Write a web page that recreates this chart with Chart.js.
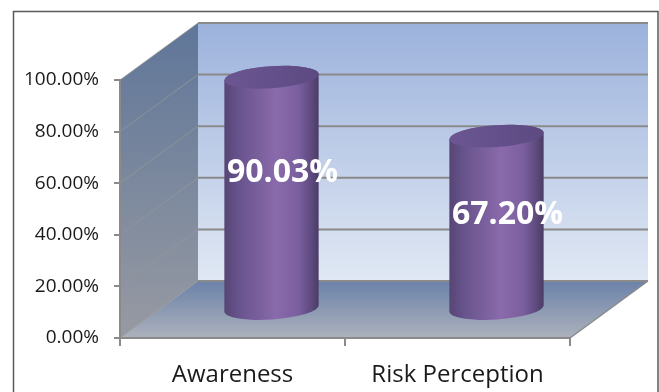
<!DOCTYPE html>
<html>
<head>
    <title>Awareness vs Risk Perception</title>
    <script src="https://cdn.jsdelivr.net/npm/chart.js"></script>
    <style>
        body { margin: 0; background: #fff; }
        #wrap { width: 659px; height: 392px; }
    </style>
</head>
<body>
    <div id="wrap"><canvas id="cylChart" width="659" height="392"></canvas></div>
    <script>
        // data
        const categories = ['Awareness', 'Risk Perception'];
        const values = [90.03, 67.20];
        const yTicks = [0, 20, 40, 60, 80, 100];

        // fake 3d depth offset (px)
        const DX = 78, DY = -57;

        function pct(v) { return v.toFixed(2) + '%'; }

        const scene3d = {
            id: 'scene3d',
            beforeDraw(chart) {
                const ctx = chart.ctx;
                const ys = chart.scales.y;
                const L = chart.chartArea.left, R = chart.chartArea.right;
                const y0 = ys.getPixelForValue(0), yTop = ys.getPixelForValue(100);

                ctx.save();
                // outer frame
                ctx.strokeStyle = '#5a5a5a';
                ctx.lineWidth = 1.5;
                ctx.strokeRect(13.5, 11.5, 644.5, 400);

                // back wall
                let g = ctx.createLinearGradient(0, yTop + DY, 0, y0 + DY);
                g.addColorStop(0, '#9cb2dc');
                g.addColorStop(1, '#e0e8f4');
                ctx.fillStyle = g;
                ctx.fillRect(L + DX, yTop + DY, R - L, y0 - yTop);

                // side wall
                g = ctx.createLinearGradient(0, yTop + DY, 0, y0);
                g.addColorStop(0, '#5f7699');
                g.addColorStop(1, '#979aa2');
                ctx.fillStyle = g;
                ctx.beginPath();
                ctx.moveTo(L, y0);
                ctx.lineTo(L, yTop);
                ctx.lineTo(L + DX, yTop + DY);
                ctx.lineTo(L + DX, y0 + DY);
                ctx.closePath();
                ctx.fill();

                // floor
                g = ctx.createLinearGradient(0, y0 + DY, 0, y0);
                g.addColorStop(0, '#6b82a9');
                g.addColorStop(1, '#acb1bc');
                ctx.fillStyle = g;
                ctx.beginPath();
                ctx.moveTo(L, y0);
                ctx.lineTo(R, y0);
                ctx.lineTo(R + DX, y0 + DY);
                ctx.lineTo(L + DX, y0 + DY);
                ctx.closePath();
                ctx.fill();

                // gridlines on back + side walls
                yTicks.forEach(v => {
                    const y = ys.getPixelForValue(v);
                    ctx.strokeStyle = '#8a8a8a';
                    ctx.lineWidth = 2;
                    ctx.beginPath();
                    ctx.moveTo(L + DX, y + DY);
                    ctx.lineTo(R + DX, y + DY);
                    ctx.stroke();
                    ctx.strokeStyle = 'rgba(150,150,150,0.8)';
                    ctx.lineWidth = 1;
                    ctx.beginPath();
                    ctx.moveTo(L, y);
                    ctx.lineTo(L + DX, y + DY);
                    ctx.stroke();
                });

                // floor right edge
                ctx.strokeStyle = '#8a8a8a';
                ctx.lineWidth = 1.5;
                ctx.beginPath();
                ctx.moveTo(R, y0);
                ctx.lineTo(R + DX, y0 + DY);
                ctx.stroke();
                ctx.restore();
            },
            afterDatasetsDraw(chart) {
                const ctx = chart.ctx;
                const meta = chart.getDatasetMeta(0);
                ctx.save();
                meta.data.forEach((bar, i) => {
                    const cx = bar.x + DX / 2;
                    const top = bar.y + DY / 2;
                    const base = bar.base + DY / 2;
                    const rx = bar.width / 2, ry = 11, rot = -0.07;

                    // body
                    const g = ctx.createLinearGradient(cx - rx, 0, cx + rx, 0);
                    g.addColorStop(0, '#564574');
                    g.addColorStop(0.15, '#67538c');
                    g.addColorStop(0.55, '#8a6aab');
                    g.addColorStop(0.78, '#7b5f9f');
                    g.addColorStop(0.93, '#5c497c');
                    g.addColorStop(1, '#4a3b64');
                    ctx.fillStyle = g;
                    ctx.beginPath();
                    ctx.ellipse(cx, base, rx, ry, rot, 0, Math.PI);
                    ctx.ellipse(cx, top, rx, ry, rot, Math.PI, 2 * Math.PI);
                    ctx.closePath();
                    ctx.fill();

                    // lid
                    const tg = ctx.createLinearGradient(cx - rx, top, cx + rx, top);
                    tg.addColorStop(0, '#6b5692');
                    tg.addColorStop(1, '#5d4a82');
                    ctx.fillStyle = tg;
                    ctx.beginPath();
                    ctx.ellipse(cx, top, rx, ry, rot, 0, 2 * Math.PI);
                    ctx.fill();

                    // value label
                    ctx.fillStyle = '#ffffff';
                    ctx.font = 'bold 32px "Open Sans"';
                    ctx.textAlign = 'center';
                    ctx.textBaseline = 'middle';
                    ctx.fillText(pct(values[i]), bar.x + 50, bar.y + 0.29 * (bar.base - bar.y));
                });
                ctx.restore();
            }
        };

        function setupChart() {
            const ctx = document.getElementById('cylChart').getContext('2d');
            return new Chart(ctx, {
                type: 'bar',
                data: {
                    labels: categories,
                    datasets: [{
                        data: values,
                        backgroundColor: 'rgba(0,0,0,0)',
                        categoryPercentage: 1,
                        barPercentage: 0.42
                    }]
                },
                options: {
                    responsive: false,
                    animation: false,
                    layout: { padding: { left: 0, top: 80, right: 89, bottom: 0 } },
                    plugins: { legend: { display: false }, tooltip: { enabled: false } },
                    scales: {
                        x: {
                            afterFit: s => { s.height = 54; },
                            grid: { offset: true, drawOnChartArea: false, tickLength: 8, color: '#8a8a8a', lineWidth: 2 },
                            border: { color: '#8a8a8a', width: 2 },
                            ticks: { color: '#1a1a1a', font: { family: 'Open Sans', size: 24 }, padding: 15 }
                        },
                        y: {
                            min: 0,
                            max: 100,
                            afterFit: s => { s.width = 120; },
                            afterBuildTicks: s => { s.ticks = yTicks.map(v => ({ value: v })); },
                            grid: { drawOnChartArea: false, tickLength: 6, color: '#8a8a8a', lineWidth: 2 },
                            border: { color: '#8a8a8a', width: 2 },
                            ticks: { color: '#1a1a1a', font: { family: 'Open Sans', size: 19 }, padding: 15, callback: v => pct(v) }
                        }
                    }
                },
                plugins: [scene3d]
            });
        }

        window.onload = () => { setupChart(); };
    </script>
</body>
</html>
